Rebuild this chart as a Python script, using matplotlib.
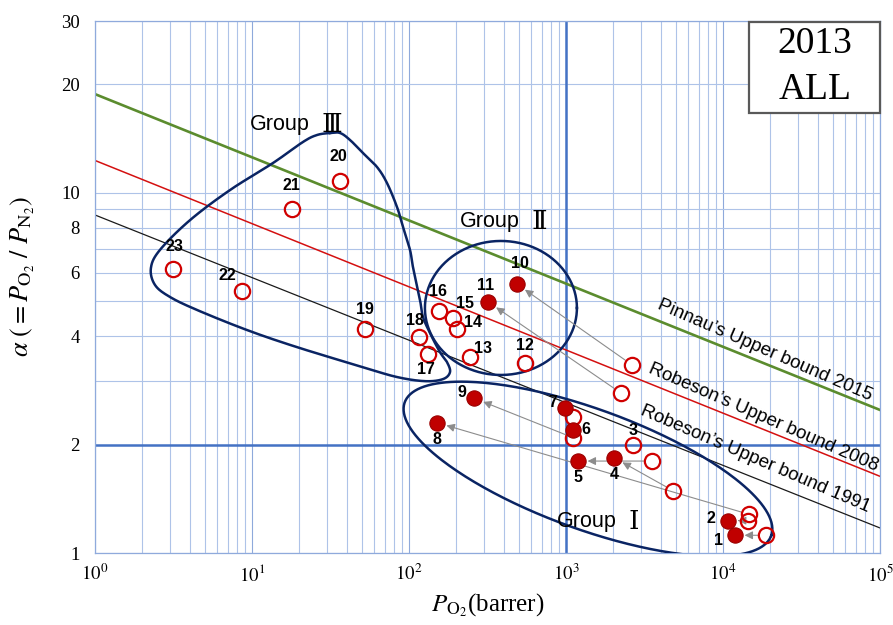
import numpy as np
import matplotlib
matplotlib.use('Agg')
import matplotlib.pyplot as plt
from matplotlib.ticker import FixedLocator, FuncFormatter, LogLocator, NullFormatter
from matplotlib.patches import Rectangle

plt.rcParams['mathtext.fontset'] = 'stix'
plt.rcParams['font.family'] = ['Liberation Serif', 'DejaVu Serif']

# membranes after treatment (filled markers)
filled_ids = [1, 2, 4, 5, 6, 7, 8, 9, 10, 11]
filled_p = [11900, 10800, 2020, 1190, 1110, 985, 151, 260, 487, 319]
filled_a = [1.12, 1.23, 1.84, 1.80, 2.20, 2.53, 2.30, 2.69, 5.58, 4.98]

# before treatment -> arrow tails (open markers)
arrow_to = [1, 2, 8, 4, 5, 7, 9, 10, 11]
arrow_from_p = [18800, 14400, 14700, 4800, 3530, 1110, 1110, 2630, 2240]
arrow_from_a = [1.12, 1.23, 1.28, 1.49, 1.80, 2.39, 2.09, 3.33, 2.78]

# other membranes (open markers with numbers)
open_ids = [3, 12, 13, 14, 15, 16, 17, 18, 19, 20, 21, 22, 23]
open_p = [2670, 548, 245, 202, 191, 155, 132, 116, 52.5, 36.4, 18.0, 8.64, 3.14]
open_a = [1.99, 3.37, 3.50, 4.19, 4.49, 4.70, 3.57, 3.98, 4.19, 10.8, 9.02, 5.34, 6.14]

# upper bounds: alpha = k * P^-n
bound_names = ["Pinnau\u2019s Upper bound 2015", "Robeson\u2019s Upper bound 2008",
               "Robeson\u2019s Upper bound 1991"]
bound_k = [18.8, 12.3, 8.68]
bound_n = [0.1754, 0.1754, 0.1738]
bound_colors = ['#5B8C2E', '#D41010', '#1A1A1A']
bound_lw = [1.9, 1.1, 0.9]
bound_label_p = [3800, 3300, 2950]
bound_label_f = [1.08, 1.07, 1.12]

# group III outline (P, alpha)
group3_p = [31.4, 36.4, 42.1, 50.9, 62.6, 72.4, 83.9, 91.6, 101.5, 106.0, 117.5, 122.8,
            136.1, 157.5, 174.5, 182.5, 164.7, 126.4, 83.9, 50.9, 19.3, 9.29, 4.46, 3.00,
            2.41, 2.27, 2.59, 4.03, 7.24, 13.6, 21.1, 25.9]
group3_a = [14.66, 14.66, 14.02, 12.90, 11.79, 10.65, 9.13, 8.04, 6.94, 6.22, 5.04, 4.52,
            4.08, 3.61, 3.39, 3.18, 3.04, 3.00, 3.08, 3.28, 3.73, 4.16, 4.73, 5.14,
            5.55, 6.18, 6.94, 8.40, 10.18, 12.10, 13.84, 14.47]

group_names = ['Group', 'Group', 'Group']
group_numerals = ['\u2162', '\u2161', '\u2160']

# label offsets in pixels (dx, dy)
label_off = {1: (-16, -5), 2: (-17, 2), 3: (0, 15), 4: (0, -17), 5: (0, -16), 6: (13, 0),
             7: (-12, 5), 8: (0, -17), 9: (-12, 6), 10: (3, 21), 11: (-3, 16), 12: (0, 17),
             13: (13, 9), 14: (16, 6), 15: (12, 15), 16: (-1, 19), 17: (-2, -16),
             18: (-4, 16), 19: (0, 19), 20: (-2, 24), 21: (-1, 23), 22: (-15, 15), 23: (1, 23)}


def catmull_rom_closed(pts, n=24):
    pts = np.asarray(pts)
    N = len(pts)
    t = np.linspace(0, 1, n, endpoint=False)[:, None]
    segs = []
    for i in range(N):
        p0, p1, p2, p3 = pts[i - 1], pts[i], pts[(i + 1) % N], pts[(i + 2) % N]
        segs.append(0.5 * (2 * p1 + (-p0 + p2) * t + (2 * p0 - 5 * p1 + 4 * p2 - p3) * t ** 2
                           + (-p0 + 3 * p1 - 3 * p2 + p3) * t ** 3))
    out = np.vstack(segs)
    return np.vstack([out, out[:1]])


def ellipse_outline(ax, center, a, b, angle, **kw):
    cx, cy = ax.transData.transform(center)
    t = np.linspace(0, 2 * np.pi, 300)
    th = np.radians(angle)
    x = cx + a * np.cos(t) * np.cos(th) - b * np.sin(t) * np.sin(th)
    y = cy + a * np.cos(t) * np.sin(th) + b * np.sin(t) * np.cos(th)
    d = ax.transData.inverted().transform(np.column_stack([x, y]))
    ax.plot(d[:, 0], d[:, 1], **kw)


fig = plt.figure(figsize=(8.93, 6.25), dpi=100)
ax = fig.add_axes([95 / 893, 72 / 625, 785 / 893, 532 / 625])
ax.set_xscale('log')
ax.set_yscale('log')
ax.set_xlim(1, 1e5)
ax.set_ylim(1, 30)

ax.xaxis.set_major_locator(LogLocator(base=10))
ax.xaxis.set_minor_locator(LogLocator(base=10, subs=np.arange(2, 10)))
ax.xaxis.set_major_formatter(FuncFormatter(lambda v, _: r'$10^{%d}$' % round(np.log10(v))))
ax.xaxis.set_minor_formatter(NullFormatter())
ax.yaxis.set_major_locator(FixedLocator([1, 2, 4, 6, 8, 10, 20, 30]))
ax.yaxis.set_minor_locator(FixedLocator([3, 5, 7, 9]))
ax.yaxis.set_major_formatter(FuncFormatter(lambda v, _: '%g' % v))
ax.yaxis.set_minor_formatter(NullFormatter())
ax.tick_params(which='both', length=0, labelsize=13.5)
ax.tick_params(axis='y', pad=11)
ax.tick_params(axis='x', pad=8)

ax.grid(which='both', color='#AEC3E8', lw=0.8, zorder=0)
ax.grid(axis='x', which='major', color='#8EA9DB', lw=0.8)
ax.set_axisbelow(True)
for s in ax.spines.values():
    s.set_color('#8FAADC')
    s.set_linewidth(0.9)

ax.axvline(1000, color='#4472C4', lw=1.8, zorder=1)
ax.axhline(2, color='#4472C4', lw=1.8, zorder=1)

# upper bound lines
xs = np.array([1, 1e5])
for name, k, n, c, lw, lp, lf in zip(bound_names, bound_k, bound_n, bound_colors, bound_lw,
                                      bound_label_p, bound_label_f):
    ys = k * xs ** (-n)
    ax.plot(xs, ys, color=c, lw=lw, zorder=2)
    p0 = ax.transData.transform((xs[0], ys[0]))
    p1 = ax.transData.transform((xs[1], ys[1]))
    ang = np.degrees(np.arctan2(p1[1] - p0[1], p1[0] - p0[0])) - 1.5
    ax.text(lp, k * lp ** (-n) * lf, name, rotation=ang, rotation_mode='anchor',
            ha='left', va='baseline', fontsize=13.5, family=['Liberation Sans'], zorder=6,
            clip_on=False)

# group outlines
navy = '#0A2463'
ellipse_outline(ax, (1380, 1.711), 195, 60, -20, color=navy, lw=1.8, zorder=3)
ellipse_outline(ax, (385, 4.79), 76, 67, 0, color=navy, lw=1.8, zorder=3)
g3 = catmull_rom_closed(np.column_stack([np.log10(group3_p), np.log10(group3_a)]))
ax.plot(10 ** g3[:, 0], 10 ** g3[:, 1], color=navy, lw=1.8, zorder=3)

# group labels: word in sans, roman numeral in serif
for name, num, pos in zip(group_names, group_numerals, [(24.8, 15.5), (540, 8.3), (2240, 1.227)]):
    ax.annotate(name, pos, xytext=(-4, 0), textcoords='offset pixels', fontsize=15.5,
                family=['Liberation Sans'], ha='right', va='center', zorder=6)
    ax.annotate(num, pos, xytext=(8, 0), textcoords='offset pixels', fontsize=19,
                family=['DejaVu Serif', 'Noto Sans CJK JP'], ha='left', va='center', zorder=6)

# arrows (before -> after)
fpos = dict(zip(filled_ids, zip(filled_p, filled_a)))
for fid, p, a in zip(arrow_to, arrow_from_p, arrow_from_a):
    ax.annotate('', xy=fpos[fid], xytext=(p, a),
                arrowprops=dict(arrowstyle='-|>', color='#8C8C8C', lw=0.8,
                                mutation_scale=12, shrinkA=6, shrinkB=7), zorder=4)

red = '#D00000'
ax.plot(arrow_from_p, arrow_from_a, 'o', ms=11, mfc='none', mec=red, mew=1.6, zorder=5)
ax.plot(open_p, open_a, 'o', ms=11, mfc='none', mec=red, mew=1.6, zorder=5)
ax.plot(filled_p, filled_a, 'o', ms=11, mfc='#C00000', mec='#9A0000', mew=0.8, zorder=5)

for ids, ps, als in [(filled_ids, filled_p, filled_a), (open_ids, open_p, open_a)]:
    for i, p, a in zip(ids, ps, als):
        ax.annotate(str(i), (p, a), xytext=label_off[i], textcoords='offset pixels',
                    ha='center', va='center', fontsize=11.5, fontweight='bold',
                    family=['Liberation Sans'], zorder=6)

# year box
ax.add_patch(Rectangle((0.833, 0.827), 0.167, 0.171, transform=ax.transAxes, fc='white',
                       ec='#595959', lw=1.6, zorder=7, clip_on=False))
ax.text(0.917, 0.958, '2013', transform=ax.transAxes, ha='center', va='center',
        fontsize=27, zorder=8)
ax.text(0.917, 0.87, 'ALL', transform=ax.transAxes, ha='center', va='center',
        fontsize=27, zorder=8)

ax.set_xlabel(r'$P_{\mathrm{O_2}}$(barrer)', fontsize=18)
ax.xaxis.set_label_coords(0.5, -0.072)
ax.set_ylabel(r'$\alpha\ (=P_{\mathrm{O_2}}\ /\ P_{\mathrm{N_2}})$', fontsize=19)
ax.yaxis.set_label_coords(-0.074, 0.52)

fig.savefig('out.png', dpi=100)
